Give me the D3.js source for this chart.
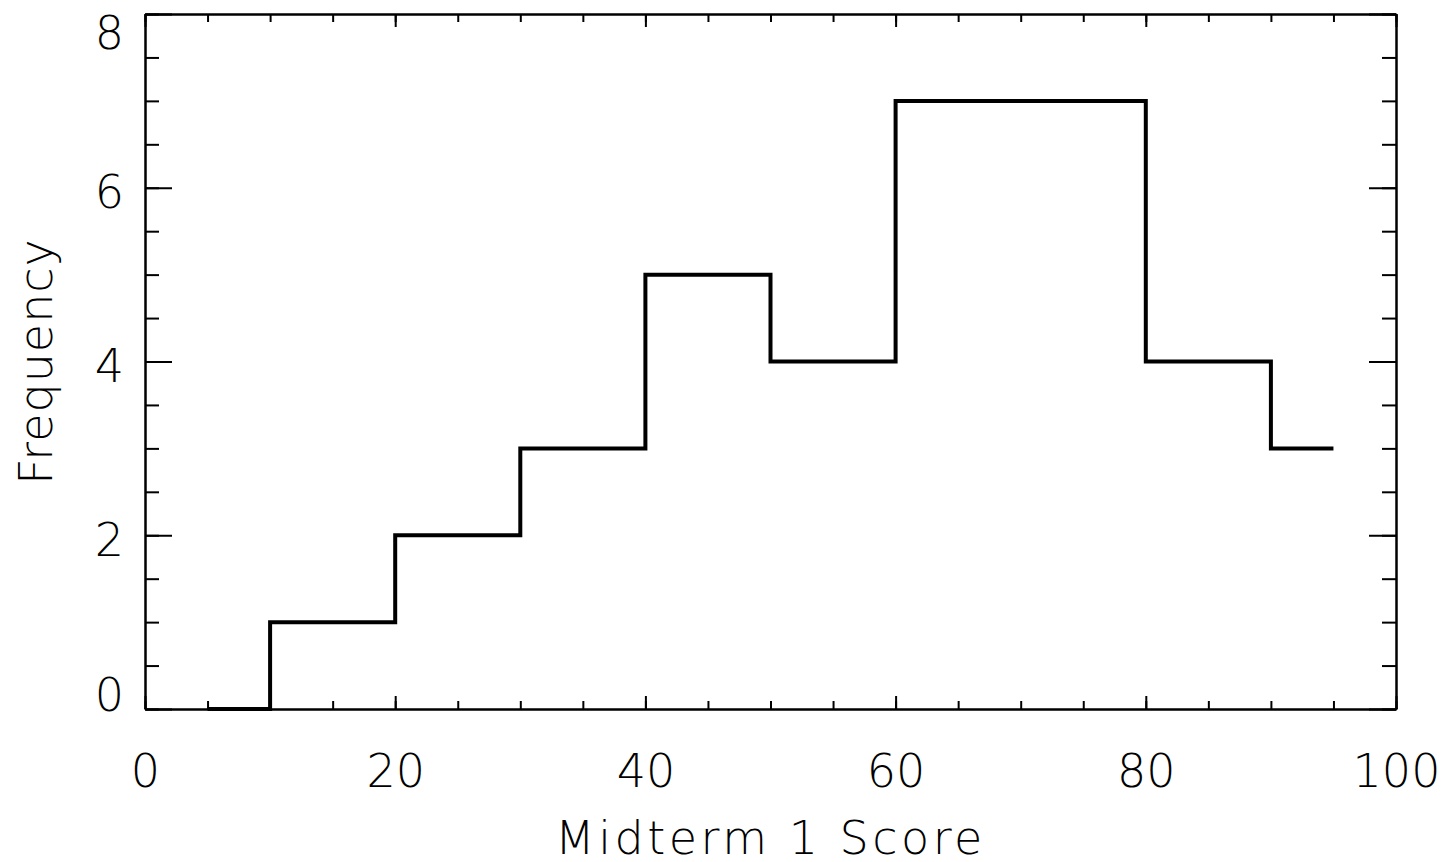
<!DOCTYPE html>
<html>
<head>
<meta charset="utf-8">
<script src="https://cdn.jsdelivr.net/npm/d3@7"></script>
<style>
  body { margin: 0; background: #fff; }
  text { font-family: "DejaVu Sans", sans-serif; font-weight: 200; fill: #000; }
</style>
</head>
<body>
<script>
// histogram bins (centres) and counts
var binCenters = [5, 15, 25, 35, 45, 55, 65, 75, 85, 95];
var counts = [0, 1, 2, 3, 5, 4, 7, 7, 4, 3];
var xMajor = [0, 20, 40, 60, 80, 100];
var yMajor = [0, 2, 4, 6, 8];
var xLabel = "Midterm 1 Score";
var yLabel = "Frequency";

var width = 1450, height = 862;
var plotLeft = 145, plotRight = 1396, plotTop = 14, plotBottom = 709;

var svg = d3.select("body").append("svg").attr("width", width).attr("height", height);

var x = d3.scaleLinear().domain([0, 100]).range([plotLeft, plotRight]);
var y = d3.scaleLinear().domain([0, 8]).range([plotBottom, plotTop]);

var xMinor = d3.range(0, 100.01, 5);
var yMinor = d3.range(0, 8.01, 0.5);

function styleAxis(g) {
  g.selectAll("path.domain").attr("stroke", "#000").attr("stroke-width", 2);
  g.selectAll(".tick line").attr("stroke", "#000").attr("stroke-width", 2);
}

// minor ticks, all four sides, pointing in
svg.append("g").attr("transform", "translate(0," + plotBottom + ")")
  .call(d3.axisBottom(x).tickValues(xMinor).tickSize(-8).tickSizeOuter(0).tickFormat(""))
  .call(styleAxis);
svg.append("g").attr("transform", "translate(0," + plotTop + ")")
  .call(d3.axisTop(x).tickValues(xMinor).tickSize(-8).tickSizeOuter(0).tickFormat(""))
  .call(styleAxis);
svg.append("g").attr("transform", "translate(" + plotLeft + ",0)")
  .call(d3.axisLeft(y).tickValues(yMinor).tickSize(-14).tickSizeOuter(0).tickFormat(""))
  .call(styleAxis);
svg.append("g").attr("transform", "translate(" + plotRight + ",0)")
  .call(d3.axisRight(y).tickValues(yMinor).tickSize(-14).tickSizeOuter(0).tickFormat(""))
  .call(styleAxis);

// major ticks
svg.append("g").attr("transform", "translate(0," + plotTop + ")")
  .call(d3.axisTop(x).tickValues(xMajor).tickSize(-13).tickSizeOuter(0).tickFormat(""))
  .call(styleAxis);
svg.append("g").attr("transform", "translate(" + plotRight + ",0)")
  .call(d3.axisRight(y).tickValues(yMajor).tickSize(-27).tickSizeOuter(0).tickFormat(""))
  .call(styleAxis);

var xAxis = svg.append("g").attr("transform", "translate(0," + plotBottom + ")")
  .call(d3.axisBottom(x).tickValues(xMajor).tickSize(-13).tickSizeOuter(0).tickFormat(d3.format("d")))
  .call(styleAxis);
xAxis.selectAll(".tick text")
  .attr("y", 61).attr("dy", "0.36em")
  .attr("font-size", 46).attr("font-family", null);

// y labels: end labels kept inside the axis range, like the original
var yAxis = svg.append("g").attr("transform", "translate(" + plotLeft + ",0)")
  .call(d3.axisLeft(y).tickValues(yMajor).tickSize(-27).tickSizeOuter(0).tickFormat(d3.format("d")))
  .call(styleAxis);
yAxis.selectAll(".tick text")
  .attr("x", -21)
  .attr("dy", function (d) { return d === 8 ? "0.76em" : (d === 0 ? "0.03em" : "0.43em"); })
  .attr("font-size", 46).attr("font-family", null);

// histogram outline
var line = d3.line()
  .x(function (d, i) { return x(binCenters[i]); })
  .y(function (d) { return y(d); })
  .curve(d3.curveStep);

svg.append("path")
  .datum(counts)
  .attr("fill", "none")
  .attr("stroke", "#000")
  .attr("stroke-width", 4)
  .attr("d", line);

// axis titles
svg.append("text")
  .attr("x", (plotLeft + plotRight) / 2).attr("y", 854)
  .attr("text-anchor", "middle")
  .attr("font-size", 46)
  .attr("letter-spacing", 3.5)
  .text(xLabel);

svg.append("text")
  .attr("transform", "translate(52," + ((plotTop + plotBottom) / 2) + ") rotate(-90)")
  .attr("text-anchor", "middle")
  .attr("font-size", 46)
  .attr("letter-spacing", 1)
  .text(yLabel);
</script>
</body>
</html>
